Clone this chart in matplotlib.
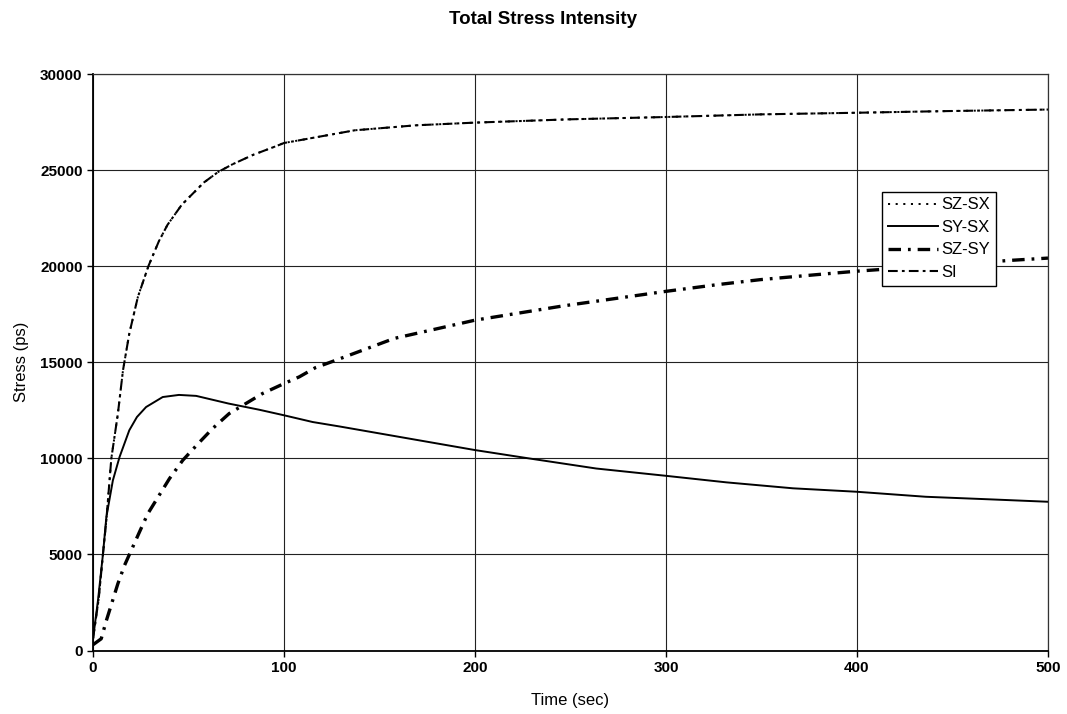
import matplotlib
matplotlib.use("Agg")
import matplotlib.pyplot as plt

plt.rcParams['font.family'] = ['Liberation Sans', 'DejaVu Sans']
plt.rcParams['lines.scale_dashes'] = False

# ---- data ----
t_si = [0, 3, 5.2, 7, 9.6, 13, 15.7, 19, 23.5, 29, 34.5, 39, 46.5, 58, 65.5,
        73, 84, 96, 100, 108, 137, 169, 200, 249, 299, 350, 398, 447, 500]
si = [600, 2700, 5000, 6800, 10000, 12300, 14580, 16490, 18400, 20000, 21300,
      22150, 23200, 24350, 24900, 25300, 25800, 26250, 26410, 26550, 27070,
      27330, 27470, 27640, 27760, 27900, 27980, 28070, 28150]
sz_sx = list(si)

t_sysx = [0, 2.6, 5.2, 7, 10.4, 13.9, 19, 23, 27.8, 36.5, 45, 54, 71, 87, 100,
          115, 129, 200, 228, 263.5, 300, 331.6, 366.5, 400, 436, 471, 500]
sy_sx = [600, 2600, 5000, 6950, 8850, 10070, 11460, 12150, 12670, 13190, 13300,
         13250, 12850, 12530, 12240, 11890, 11660, 10430, 10000, 9470, 9090,
         8750, 8440, 8260, 8000, 7860, 7740]

t_szsy = [0, 4.3, 7, 13, 16.5, 24.3, 28.7, 40, 47, 55, 62.6, 71.3, 80, 88.7,
          100, 108, 116.5, 127, 157.7, 200, 246, 300, 327, 349.5, 379, 400,
          480, 500]
sz_sy = [300, 610, 1560, 3470, 4430, 6160, 7120, 8940, 9900, 10760, 11550,
         12330, 12850, 13370, 13890, 14240, 14720, 15100, 16240, 17190, 17930,
         18690, 19040, 19300, 19560, 19740, 20300, 20420]

x_ticks = [0, 100, 200, 300, 400, 500]
y_ticks = [0, 5000, 10000, 15000, 20000, 25000, 30000]

title = "Total Stress Intensity"
x_label = "Time (sec)"
y_label = "Stress (ps)"

# ---- figure ----
fig = plt.figure(figsize=(10.67, 7.14), dpi=100)
ax = fig.add_axes([93 / 1067, 1 - 650.5 / 714, (1048 - 93) / 1067, (650.5 - 74) / 714])

ax.plot(t_si, sz_sx, color='black', lw=1.4, dashes=(1.5, 4), label='SZ-SX')
ax.plot(t_sysx, sy_sx, color='black', lw=1.4, ls='-', label='SY-SX')
ax.plot(t_szsy, sz_sy, color='black', lw=2.4, dashes=(9, 5, 2, 5), label='SZ-SY')
ax.plot(t_si, si, color='black', lw=1.5, dashes=(7, 3, 2, 3), label='SI')

ax.set_xlim(0, 500)
ax.set_ylim(0, 30000)
ax.set_xticks(x_ticks)
ax.set_yticks(y_ticks)
ax.grid(True, color='#222222', lw=0.8)
ax.set_axisbelow(True)
for s in ax.spines.values():
    s.set_linewidth(0.9)
    s.set_color('#333333')
ax.spines['left'].set_linewidth(1.3)
ax.spines['left'].set_color('black')
ax.spines['bottom'].set_linewidth(1.3)
ax.spines['bottom'].set_color('black')

ax.tick_params(direction='out', length=4, width=1, labelsize=11)
for lab in ax.get_xticklabels() + ax.get_yticklabels():
    lab.set_fontweight('bold')

ax.set_xlabel(x_label, fontsize=12, labelpad=13)
ax.set_ylabel(y_label, fontsize=12, labelpad=8)
fig.text(0.509, 1 - 19 / 714, title, ha='center', va='center',
         fontsize=13.5, fontweight='bold')

leg = ax.legend(loc='upper left', bbox_to_anchor=(0.826, 0.796),
                frameon=True, fancybox=False, fontsize=12,
                handlelength=3.0, handletextpad=0.2, borderpad=0.35,
                labelspacing=0.45, borderaxespad=0)
leg.get_frame().set_edgecolor('black')
leg.get_frame().set_linewidth(1.0)
leg.get_frame().set_alpha(1)

fig.savefig("out.png", dpi=100)
